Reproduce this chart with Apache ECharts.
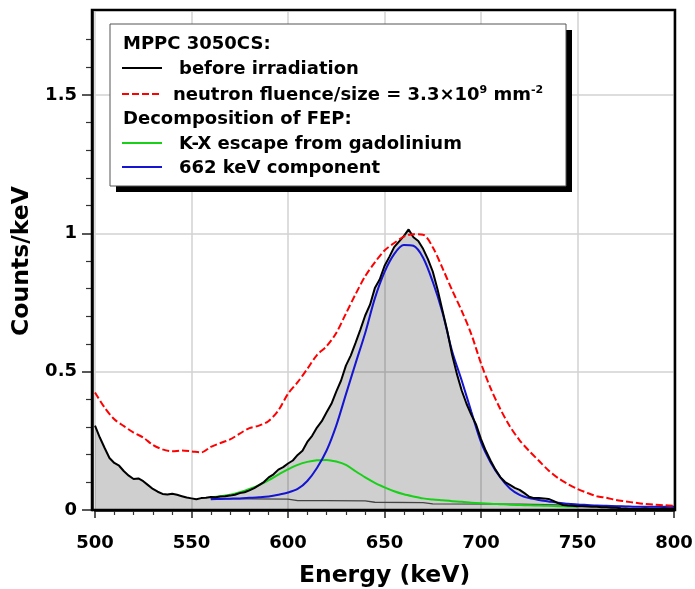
<!DOCTYPE html>
<html>
<head>
<meta charset="utf-8">
<script src="https://cdn.jsdelivr.net/npm/echarts@6/dist/echarts.min.js"></script>
<style>
html,body{margin:0;padding:0;background:#fff;}
#chart{width:695px;height:589px;}
</style>
</head>
<body>
<div id="chart"></div>
<script>
// ---- data ----
const xTicks = [500, 550, 600, 650, 700, 750, 800];
const yTicks = [0, 0.5, 1, 1.5];

// before irradiation: sampled every 2.5 keV from 500 keV
const beforeStart = 500, beforeStep = 2.5;
const beforeValues = [
  0.305,0.262,0.224,0.188,0.170,0.160,0.140,0.124,0.112,0.114,
  0.104,0.090,0.076,0.066,0.058,0.056,0.059,0.055,0.050,0.045,
  0.042,0.039,0.043,0.044,0.047,0.046,0.049,0.050,0.052,0.055,
  0.061,0.064,0.071,0.079,0.090,0.101,0.118,0.129,0.146,0.155,
  0.168,0.179,0.199,0.214,0.246,0.268,0.298,0.321,0.353,0.384,
  0.428,0.468,0.522,0.558,0.604,0.652,0.703,0.742,0.802,0.833,
  0.882,0.915,0.950,0.970,0.990,1.014,0.986,0.972,0.944,0.907,
  0.862,0.797,0.722,0.648,0.562,0.492,0.432,0.384,0.344,0.308,
  0.256,0.214,0.178,0.146,0.119,0.101,0.091,0.080,0.073,0.061,
  0.048,0.043,0.043,0.042,0.040,0.033,0.025,0.018,0.016,0.015,
  0.014,0.014,0.013,0.012,0.012,0.010,0.010,0.008,0.008,0.006,
  0.005,0.004,0.004,0.004,0.005,0.004,0.004,0.004,0.005,0.004,
  0.004
];

// neutron fluence: every 5 keV from 500
const neutronStart = 500, neutronStep = 5;
const neutronValues = [
  0.425,0.370,0.328,0.303,0.280,0.262,0.235,0.219,0.212,0.215,
  0.212,0.208,0.228,0.242,0.255,0.276,0.296,0.305,0.322,0.360,
  0.420,0.462,0.510,0.560,0.592,0.640,0.710,0.780,0.845,0.895,
  0.938,0.965,0.988,0.997,0.995,0.950,0.875,0.795,0.720,0.635,
  0.530,0.440,0.365,0.302,0.252,0.213,0.178,0.143,0.115,0.094,
  0.076,0.062,0.050,0.044,0.036,0.031,0.026,0.022,0.019,0.017,
  0.015
];

// K-X escape from gadolinium: every 5 keV from 560
const kxStart = 560, kxStep = 5;
const kxValues = [
  0.046,0.050,0.055,0.064,0.076,0.090,0.108,0.128,0.147,0.163,
  0.174,0.180,0.181,0.175,0.163,0.140,0.118,0.098,0.082,0.068,
  0.057,0.049,0.042,0.038,0.035,0.032,0.030,0.026,0.024,0.023,
  0.021,0.019,0.018,0.017,0.016,0.015,0.014,0.013,0.012
];

// 662 keV component: every 5 keV from 560
const fepStart = 560, fepStep = 5;
const fepValues = [
  0.039,0.040,0.041,0.042,0.044,0.046,0.049,0.055,0.063,0.076,
  0.105,0.152,0.215,0.305,0.418,0.530,0.640,0.765,0.860,0.925,
  0.958,0.955,0.912,0.825,0.715,0.575,0.468,0.355,0.245,0.172,
  0.118,0.078,0.055,0.043,0.036,0.031,0.026,0.023,0.020,0.018,
  0.016,0.015,0.014,0.013,0.012,0.012,0.012,0.012,0.012
];

// background under FEP
const bgEnergies = [560, 580, 600, 605, 620, 640, 645, 670, 675, 720, 740, 760, 780, 800];
const bgValues   = [0.040,0.040,0.039,0.034,0.034,0.033,0.028,0.027,0.022,0.021,0.018,0.015,0.012,0.010];

function pairs(start, step, vals){ return vals.map((v,i)=>[start+i*step, v]); }
function zip(xs, ys){ return xs.map((x,i)=>[x, ys[i]]); }

const FONT = 'DejaVu Sans';
const chart = echarts.init(document.getElementById('chart'), null, {renderer:'canvas'});

const option = {
  animation: false,
  backgroundColor: '#fff',
  grid: {left: 95, right: 21, top: 12, bottom: 79, containLabel: false, outerBoundsMode: 'none'},
  xAxis: {
    type: 'value', min: 500, max: 800, interval: 50,
    axisLine: {show: true, onZero: false, lineStyle: {color: '#000', width: 2.5}},
    axisTick: {show: true, inside: false, length: 8, lineStyle: {color: '#222', width: 1.5}},
    minorTick: {show: true, splitNumber: 5, length: 5, lineStyle: {color: '#333', width: 1.2}},
    axisLabel: {margin: 24, fontSize: 18, fontWeight: 'bold', fontFamily: FONT, color: '#000',
                customValues: xTicks},
    splitLine: {show: true, lineStyle: {color: '#d2d2d2', width: 1.5}},
    name: 'Energy (keV)', nameLocation: 'middle', nameGap: 54,
    nameTextStyle: {fontSize: 23.5, fontWeight: 'bold', fontFamily: FONT, color: '#000'}
  },
  yAxis: {
    type: 'value', min: 0, max: 1.8, interval: 0.5, offset: 3,
    axisLine: {show: true, onZero: false, lineStyle: {color: '#000', width: 2.5}},
    axisTick: {show: true, inside: false, length: 10, lineStyle: {color: '#222', width: 1.5},
               customValues: yTicks},
    minorTick: {show: true, splitNumber: 5, length: 6, lineStyle: {color: '#333', width: 1.2}},
    axisLabel: {margin: 15, fontSize: 18, fontWeight: 'bold', fontFamily: FONT, color: '#000',
                customValues: yTicks},
    splitLine: {show: true, lineStyle: {color: '#d2d2d2', width: 1.5}},
    name: 'Counts/keV', nameLocation: 'middle', nameGap: 54, nameRotate: 90,
    nameTextStyle: {fontSize: 23.5, fontWeight: 'bold', fontFamily: FONT, color: '#000'}
  },
  series: [
    {type: 'line', name: 'fill', data: pairs(beforeStart, beforeStep, beforeValues),
     showSymbol: false, lineStyle: {width: 0, opacity: 0},
     areaStyle: {color: 'rgba(0,0,0,0.19)', opacity: 1, origin: 'start'}, z: 1, silent: true},
    {type: 'line', name: 'background', data: zip(bgEnergies, bgValues), showSymbol: false,
     lineStyle: {color: '#444', width: 1.3}, z: 2},
    {type: 'line', name: 'K-X escape from gadolinium', data: pairs(kxStart, kxStep, kxValues),
     showSymbol: false, smooth: 0.3, lineStyle: {color: '#18d018', width: 2}, z: 3},
    {type: 'line', name: '662 keV component', data: pairs(fepStart, fepStep, fepValues),
     showSymbol: false, smooth: 0.3, lineStyle: {color: '#1414d2', width: 2}, z: 3},
    {type: 'line', name: 'before irradiation', data: pairs(beforeStart, beforeStep, beforeValues),
     showSymbol: false, lineStyle: {color: '#000', width: 2}, z: 4},
    {type: 'line', name: 'neutron', data: pairs(neutronStart, neutronStep, neutronValues),
     showSymbol: false, smooth: 0.3, lineStyle: {color: '#ff0000', width: 2, type: [7, 3]}, z: 5}
  ]
};
chart.setOption(option);

// frame and legend
const x0 = chart.convertToPixel({xAxisIndex: 0}, 500);
const x1 = chart.convertToPixel({xAxisIndex: 0}, 800);
const yb = chart.convertToPixel({yAxisIndex: 0}, 0);
const yt = chart.convertToPixel({yAxisIndex: 0}, 1.8);
const fl = x0 - 3, fr = x1 + 1, ft = yt - 2, fb = yb;

const LFONT = 'bold 18px "' + FONT + '"';
const txt = (x, y, t) => ({
  type: 'text', x: x, y: y, z: 20,
  style: {text: t, font: LFONT, fill: '#000', verticalAlign: 'middle', align: 'left'}
});
const seg = (y, color, dash) => ({
  type: 'line', z: 20, shape: {x1: 122, y1: y, x2: 162, y2: y},
  style: {stroke: color, lineWidth: 2, lineDash: dash || null}
});

chart.setOption({
  graphic: [
    {type: 'rect', z: 15, shape: {x: fl, y: ft, width: fr - fl, height: fb - ft},
     style: {fill: null, stroke: '#000', lineWidth: 2.5}},
    {type: 'rect', z: 18, shape: {x: 116, y: 30, width: 456, height: 162}, style: {fill: '#000'}},
    {type: 'rect', z: 19, shape: {x: 110, y: 24, width: 456, height: 162},
     style: {fill: '#fff', stroke: '#555', lineWidth: 1}},
    txt(123, 44, 'MPPC 3050CS:'),
    seg(68, '#000'),
    txt(179, 69, 'before irradiation'),
    seg(94, '#ff0000', [7, 3]),
    {type: 'text', x: 173, y: 95, z: 20,
     style: {
       text: '{n|neutron fluence/size = 3.3×10}{s|9}{n| mm}{s|-2}',
       verticalAlign: 'middle', align: 'left', fill: '#000',
       rich: {
         n: {fontSize: 18, fontWeight: 'bold', fontFamily: FONT, fill: '#000', lineHeight: 20},
         s: {fontSize: 11, fontWeight: 'bold', fontFamily: FONT, fill: '#000', verticalAlign: 'top', lineHeight: 12}
       }
     }},
    txt(123, 119, 'Decomposition of FEP:'),
    seg(143, '#18d018'),
    txt(179, 144, 'K-X escape from gadolinium'),
    seg(167, '#1414d2'),
    txt(179, 168, '662 keV component')
  ]
});
</script>
</body>
</html>
